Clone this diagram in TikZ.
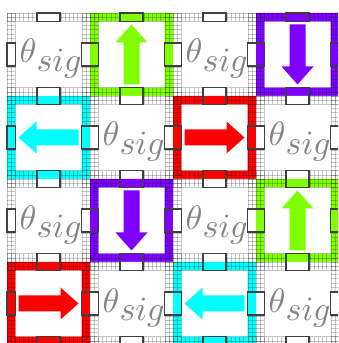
\documentclass[tikz,border=0pt]{standalone}
\definecolor{cgreen}{HTML}{80FF00}
\definecolor{cpurple}{HTML}{8000FF}
\definecolor{cred}{HTML}{FF0000}
\definecolor{ccyan}{HTML}{00FFFF}
\definecolor{thgray}{HTML}{858585}
\begin{document}
\begin{tikzpicture}[x=1pt,y=1pt,
  gridline/.style={draw=black, draw opacity=0.22, line width=0.4pt},
  portline/.style={draw=black!75, line width=1.1pt},
  sigtext/.style={text=thgray, inner sep=0pt, anchor=base west, scale=3.4, transform shape},
  pics/arr/.style={code={\fill[#1] (-8,-30) -- (-8,12) -- (-16,12) -- (0,30) -- (16,12) -- (8,12) -- (8,-30) -- cycle;}}
]
\useasboundingbox (0,0) rectangle (338,343);
\clip (0,0) rectangle (338,343);
% cells
\foreach \c/\r/\col in {0/0/white,1/0/cgreen,2/0/white,3/0/cpurple,
                        0/1/ccyan,1/1/white,2/1/cred,3/1/white,
                        0/2/white,1/2/cpurple,2/2/white,3/2/cgreen,
                        0/3/cred,1/3/white,2/3/ccyan,3/3/white}{
  \pgfmathsetmacro\X{7+83*\c}
  \pgfmathsetmacro\Y{247-83*\r}
  \fill[\col, even odd rule] (\X,\Y) rectangle ++(83,83) (\X+8.3,\Y+8.3) rectangle ++(66.4,66.4);
  \foreach \i in {0,...,20}{
     \draw[gridline] (\X+\i*4.15,\Y) -- ++(0,8.3);
     \draw[gridline] (\X+\i*4.15,\Y+74.7) -- ++(0,8.3);
     \draw[gridline] (\X,\Y+\i*4.15) -- ++(8.3,0);
     \draw[gridline] (\X+74.7,\Y+\i*4.15) -- ++(8.3,0);
  }
  \foreach \i in {0,1,2,18,19,20}{
     \draw[gridline] (\X+\i*4.15,\Y) -- ++(0,83);
     \draw[gridline] (\X,\Y+\i*4.15) -- ++(83,0);
  }
  \fill[\col] (\X+30,\Y) rectangle ++(23,8.3);
  \fill[\col] (\X+30,\Y+74.7) rectangle ++(23,8.3);
  \fill[\col] (\X,\Y+30) rectangle ++(8.3,23);
  \fill[\col] (\X+74.7,\Y+30) rectangle ++(8.3,23);
}
% ports
\foreach \c in {0,...,3}{
  \foreach \r in {1,...,4}{
    \draw[portline] (37+83*\c, 330-83*\r-8.3) rectangle ++(23,16.6);
  }
  \draw[portline] (37+83*\c, 321.7) rectangle ++(23,8.3);
}
\foreach \r in {0,...,3}{
  \foreach \c in {1,...,4}{
    \draw[portline] (7+83*\c-8.3, 277-83*\r) rectangle ++(16.6,23);
  }
  \draw[portline] (7, 277-83*\r) rectangle ++(8.3,23);
}
% theta labels
\foreach \c/\r in {0/0,2/0,1/1,3/1,0/2,2/2,1/3,3/3}{
  \node[sigtext] (t\c\r) at (19+83*\c, 280-83*\r)
    {$\theta$\raisebox{-2.6pt}{$\mathnormal{sig}$}};
}
% arrows
\pic at (131.5,288.5) {arr=cgreen};
\pic[rotate=180] at (297.5,288.5) {arr=cpurple};
\pic[rotate=90] at (48.5,205.5) {arr=ccyan};
\pic[rotate=-90] at (214.5,205.5) {arr=cred};
\pic[rotate=180] at (131.5,122.5) {arr=cpurple};
\pic at (297.5,122.5) {arr=cgreen};
\pic[rotate=-90] at (48.5,39.5) {arr=cred};
\pic[rotate=90] at (214.5,39.5) {arr=ccyan};
\end{tikzpicture}
\end{document}
